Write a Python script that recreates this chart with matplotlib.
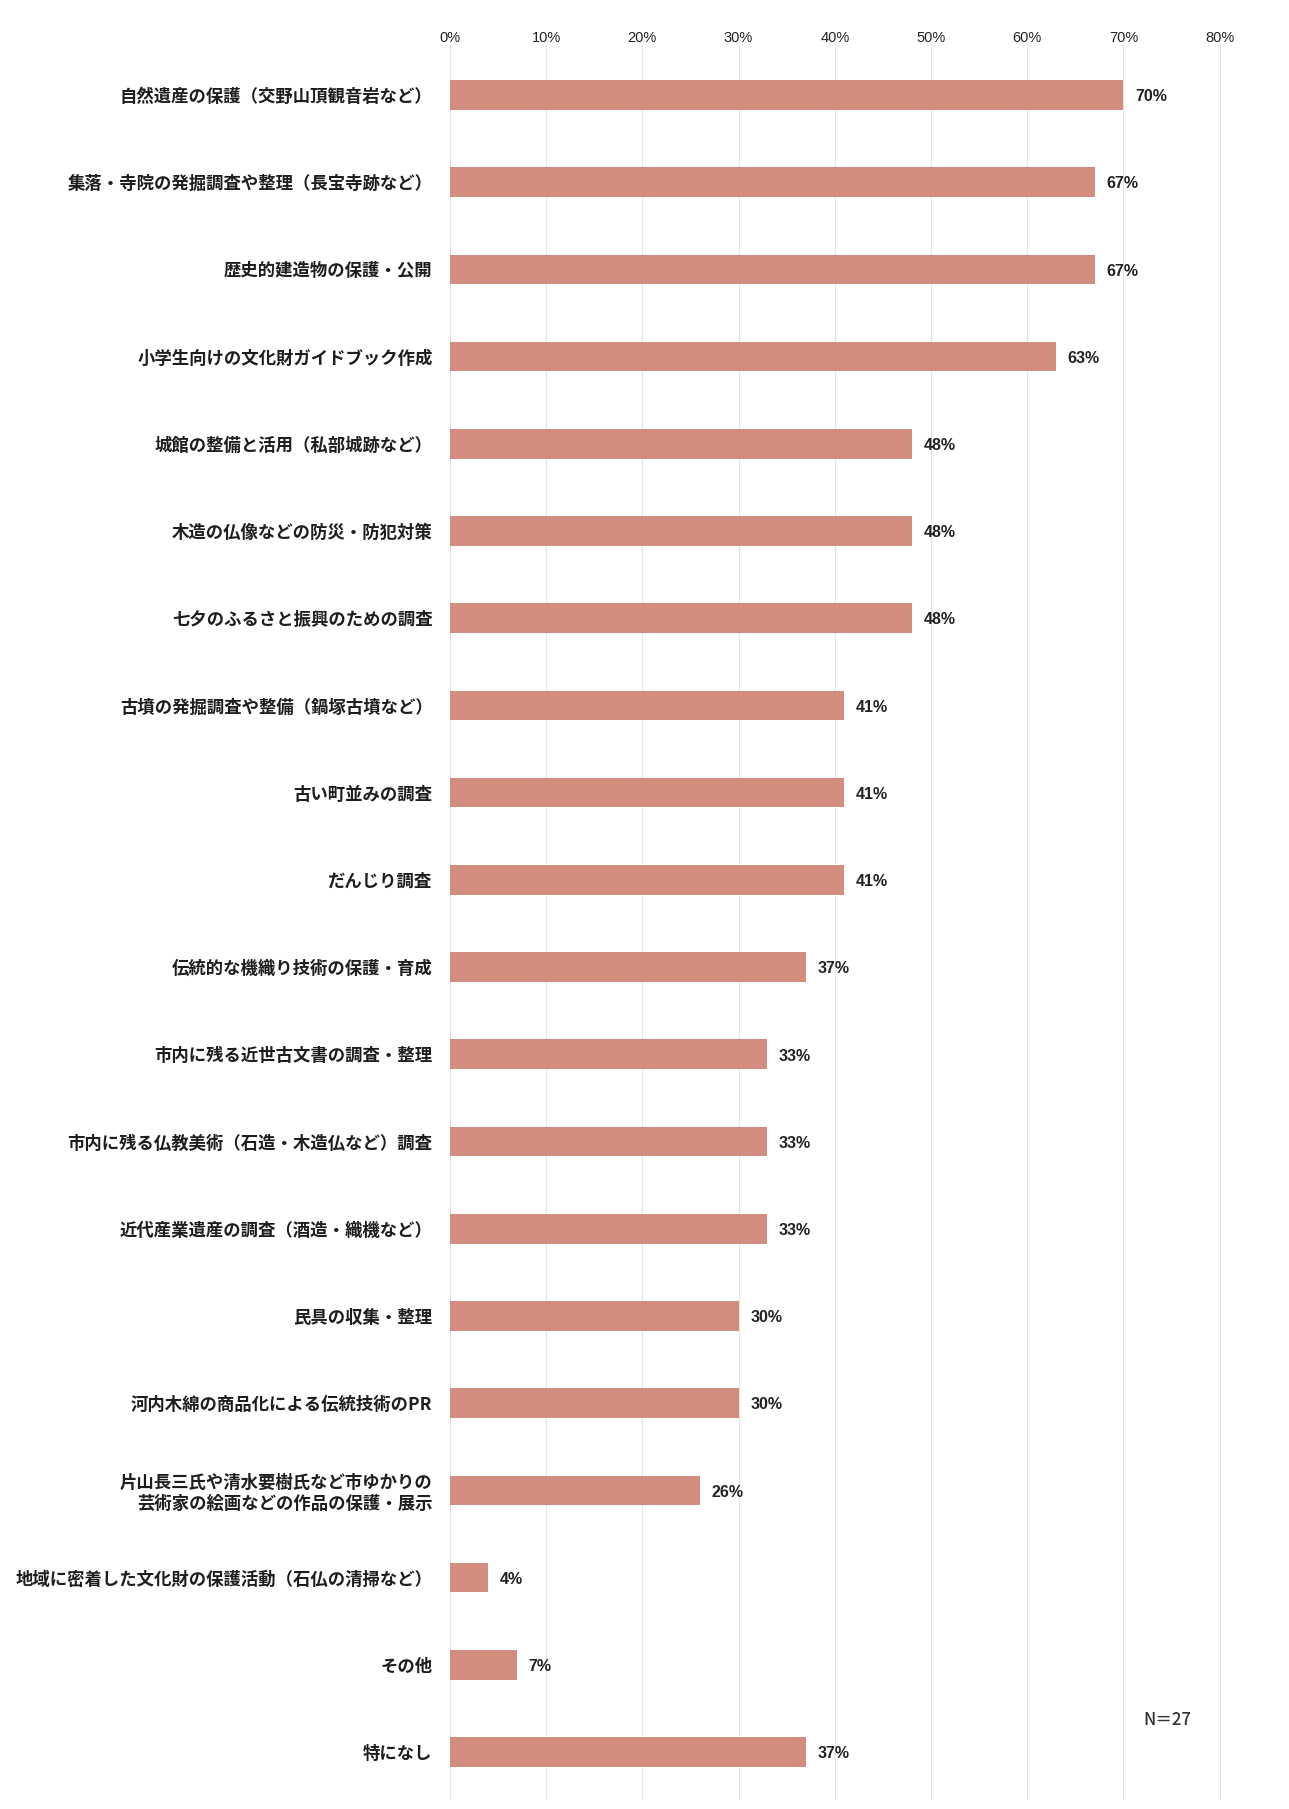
import matplotlib
matplotlib.use("Agg")
import matplotlib.pyplot as plt

plt.rcParams['font.family'] = ['Noto Sans CJK JP', 'DejaVu Sans']

# 回答項目（上から順）
items = [
    "自然遺産の保護（交野山頂観音岩など）",
    "集落・寺院の発掘調査や整理（長宝寺跡など）",
    "歴史的建造物の保護・公開",
    "小学生向けの文化財ガイドブック作成",
    "城館の整備と活用（私部城跡など）",
    "木造の仏像などの防災・防犯対策",
    "七夕のふるさと振興のための調査",
    "古墳の発掘調査や整備（鍋塚古墳など）",
    "古い町並みの調査",
    "だんじり調査",
    "伝統的な機織り技術の保護・育成",
    "市内に残る近世古文書の調査・整理",
    "市内に残る仏教美術（石造・木造仏など）調査",
    "近代産業遺産の調査（酒造・織機など）",
    "民具の収集・整理",
    "河内木綿の商品化による伝統技術のPR",
    "片山長三氏や清水要樹氏など市ゆかりの\n芸術家の絵画などの作品の保護・展示",
    "地域に密着した文化財の保護活動（石仏の清掃など）",
    "その他",
    "特になし",
]
# 回答割合（%）
shares = [70, 67, 67, 63, 48, 48, 48, 41, 41, 41, 37, 33, 33, 33, 30, 30, 26, 4, 7, 37]

x_ticks = [0, 10, 20, 30, 40, 50, 60, 70, 80]
x_tick_labels = [f"{t}%" for t in x_ticks]
sample_note = "N＝27"

bar_color = "#d28d7e"
num_font = ['Liberation Sans Narrow', 'Liberation Sans', 'DejaVu Sans']

fig = plt.figure(figsize=(12.89, 18.09), dpi=100)
ax = fig.add_axes([0.349, 0.005, 0.651, 0.97])

pos = list(range(len(items)))
ax.barh(pos, shares, height=0.34, color=bar_color, zorder=2)

for p, v in zip(pos, shares):
    ax.text(v + 1.2, p + 0.02, f"{v}%", va="center", ha="left",
            fontsize=11.5, fontweight="bold", family=num_font, color="#222222")

ax.set_xlim(0, 87.2)
ax.set_ylim(19.55, -0.57)

ax.set_yticks(pos)
ax.set_yticklabels(items, fontsize=12.5, fontweight="bold", color="#1e1e1e")
ax.tick_params(axis="y", length=0, pad=12.5)

ax.xaxis.tick_top()
ax.set_xticks(x_ticks)
ax.set_xticklabels(x_tick_labels, fontsize=10.5, family=num_font, color="#222222")
ax.tick_params(axis="x", length=0, pad=0.5)

for t in x_ticks:
    ax.axvline(t, color="#e4e4e4", linewidth=0.8, zorder=1)

for s in ax.spines.values():
    s.set_visible(False)

ax.text(74.6, 18.63, sample_note, fontsize=12, ha="center", va="center",
        fontweight="medium", color="#333333")

fig.savefig("out.png", dpi=100, facecolor="white")
